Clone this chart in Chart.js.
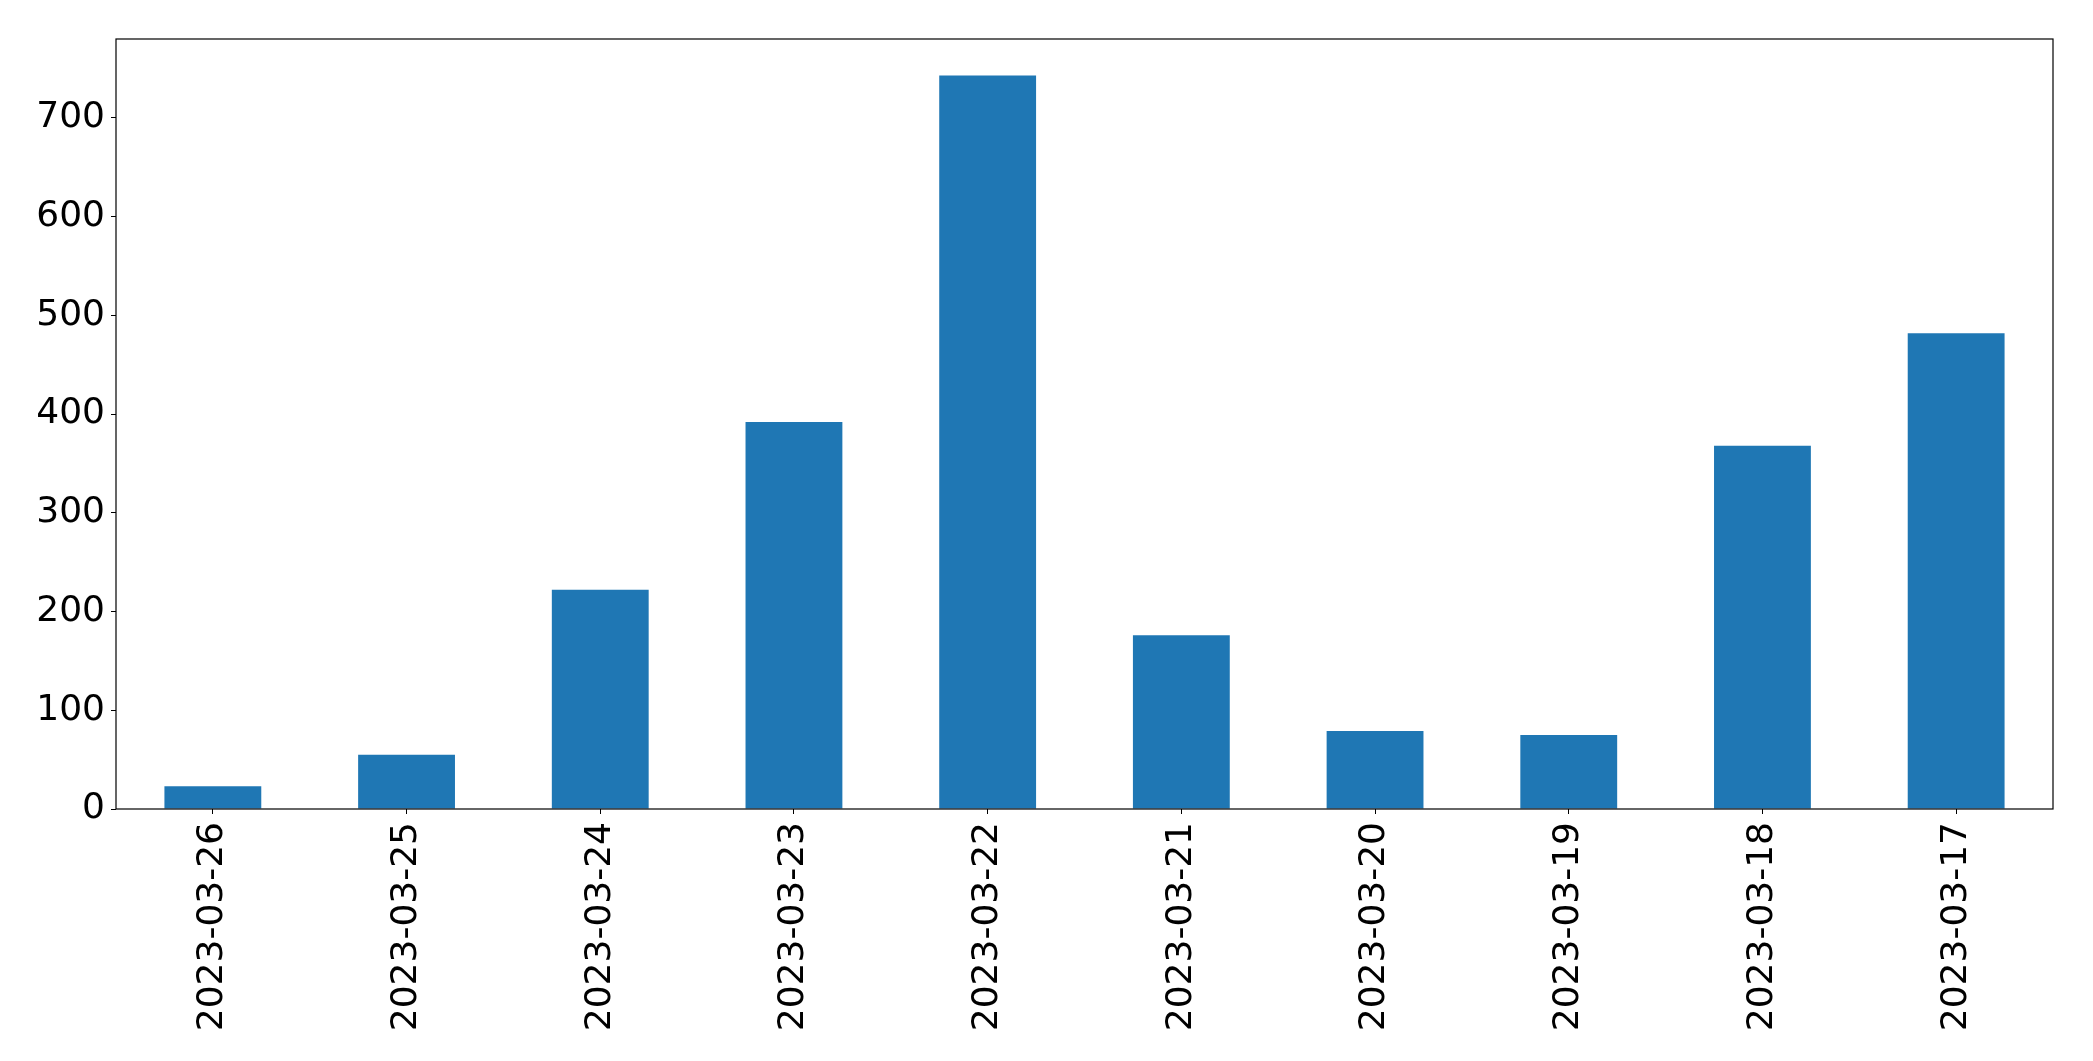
<!DOCTYPE html>
<html>
<head>
<meta charset="utf-8">
<script src="https://cdn.jsdelivr.net/npm/chart.js@4"></script>
<style>
  body { margin: 0; background: #fff; }
</style>
</head>
<body>
<canvas id="barChart" width="2093" height="1061"></canvas>
<script>
const dates = ['2023-03-26', '2023-03-25', '2023-03-24', '2023-03-23', '2023-03-22',
               '2023-03-21', '2023-03-20', '2023-03-19', '2023-03-18', '2023-03-17'];
const counts = [23, 55, 222, 392, 743, 176, 79, 75, 368, 482];
const yTicks = [0, 100, 200, 300, 400, 500, 600, 700];

// box round the plot area (matplotlib spines)
const frame = {
  id: 'frame',
  afterDraw(chart) {
    const { ctx, chartArea: a } = chart;
    ctx.save();
    ctx.strokeStyle = '#000';
    ctx.lineWidth = 1.2;
    ctx.strokeRect(a.left, a.top, a.right - a.left, a.bottom - a.top);
    ctx.restore();
  }
};

const ctx = document.getElementById('barChart').getContext('2d');
new Chart(ctx, {
  type: 'bar',
  data: {
    labels: dates,
    datasets: [{
      data: counts,
      backgroundColor: '#1f77b4',
      borderWidth: 0,
      barPercentage: 0.5,
      categoryPercentage: 1.0
    }]
  },
  options: {
    responsive: false,
    animation: false,
    layout: { padding: { left: 0, top: 39, right: 40, bottom: 0 } },
    plugins: {
      legend: { display: false },
      tooltip: { enabled: false }
    },
    scales: {
      x: {
        grid: { offset: false, drawOnChartArea: false, drawTicks: true, tickLength: 5, color: '#000' },
        border: { display: false },
        ticks: {
          color: '#000',
          minRotation: 90,
          maxRotation: 90,
          padding: 8,
          font: { family: 'DejaVu Sans', size: 36 }
        },
        afterFit(scale) { scale.height = 252; }
      },
      y: {
        min: 0,
        max: 780,
        grid: { drawOnChartArea: false, drawTicks: true, tickLength: 5, color: '#000' },
        border: { display: false },
        afterBuildTicks(scale) { scale.ticks = yTicks.map(v => ({ value: v })); },
        ticks: {
          color: '#000',
          padding: 6,
          font: { family: 'DejaVu Sans', size: 36 }
        },
        afterFit(scale) { scale.width = 116; }
      }
    }
  },
  plugins: [frame]
});
</script>
</body>
</html>
